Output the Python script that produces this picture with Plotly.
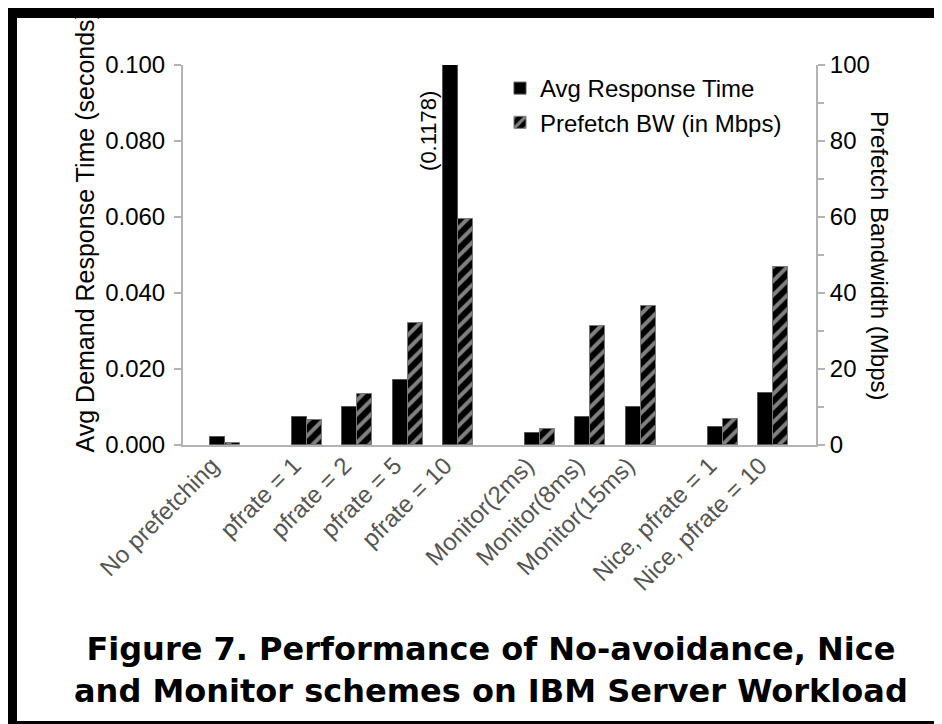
import plotly.graph_objects as go

# ---- data ----
groups = [
    ["No prefetching"],
    ["pfrate = 1", "pfrate = 2", "pfrate = 5", "pfrate = 10"],
    ["Monitor(2ms)", "Monitor(8ms)", "Monitor(15ms)"],
    ["Nice, pfrate = 1", "Nice, pfrate = 10"],
]
avg_response_time = [0.0021, 0.0075, 0.0099, 0.0171, 0.1178, 0.0031, 0.0075, 0.0101, 0.0048, 0.0136]
prefetch_bw = [0.4, 6.6, 13.5, 32.1, 59.6, 4.1, 31.2, 36.5, 6.8, 46.8]
clipped_label = "(0.1178)"
left_ticks = [0.0, 0.02, 0.04, 0.06, 0.08, 0.10]
right_ticks = [0, 20, 40, 60, 80, 100]

# ---- layout constants ----
W, H = 942, 724
L, R, T, B = 175, 808, 57, 437
GAP = 0.63  # extra spacing between groups (in category units)

labels, positions = [], []
p = 0.0
for gi, g in enumerate(groups):
    if gi > 0:
        p += GAP
    for name in g:
        labels.append(name)
        positions.append(p)
        p += 1.0
unit = (450 - 217) / (positions[4] - positions[0])
xmin = positions[0] - (217 - L) / unit
xmax = positions[0] + (R - 217) / unit
Y_MAX = 0.1
shown_rt = [min(v, Y_MAX) for v in avg_response_time]


def px(xp):
    return (xp - L) / (R - L)


def py(yp):
    return (B - yp) / (B - T)


FONT = "Liberation Sans, Arial, sans-serif"
AXC = "#b3b3b3"

fig = go.Figure()
fig.add_trace(go.Bar(
    x=positions, y=shown_rt, name="Avg Response Time",
    width=0.3, offset=-0.3,
    marker=dict(color="black", line=dict(color="#555555", width=1)),
    yaxis="y",
))
fig.add_trace(go.Bar(
    x=positions, y=prefetch_bw, name="Prefetch BW (in Mbps)",
    width=0.3, offset=0.0,
    marker=dict(color="black", line=dict(color="#777777", width=1),
                pattern=dict(shape="/", fgcolor="white", bgcolor="black",
                             size=10, solidity=0.4)),
    yaxis="y2",
))

fig.update_layout(
    width=W, height=H,
    margin=dict(l=L, r=W - R, t=T, b=H - B, pad=0),
    paper_bgcolor="black", plot_bgcolor="white",
    font=dict(family=FONT, size=24, color="black"),
    showlegend=True,
    legend=dict(x=px(492), y=py(58), xanchor="left", yanchor="top",
                bgcolor="rgba(0,0,0,0)", font=dict(size=24, color="black"),
                traceorder="normal", itemwidth=30, tracegroupgap=0),
    bargap=0,
    xaxis=dict(range=[xmin, xmax], tickvals=positions, ticktext=labels,
               tickangle=-45, showline=True, linecolor=AXC, linewidth=2,
               ticks="", showgrid=False, zeroline=False,
               ticklabelshift=-13, ticklabelstandoff=-5,
               tickfont=dict(size=24, color="#555555")),
    yaxis=dict(range=[0, Y_MAX], tickvals=left_ticks, tickformat=".3f",
               ticks="outside", ticklen=7, tickcolor=AXC, tickwidth=2,
               ticklabelstandoff=4,
               showline=True, linecolor=AXC, linewidth=2,
               showgrid=False, zeroline=False,
               tickfont=dict(size=24, color="black")),
    yaxis2=dict(range=[0, 100], tickvals=right_ticks, overlaying="y", side="right",
                ticks="outside", ticklen=7, tickcolor=AXC, tickwidth=2,
                minor=dict(dtick=10, ticks="outside", ticklen=6, tickcolor=AXC, tickwidth=2),
                showline=True, linecolor=AXC, linewidth=2,
                showgrid=False, zeroline=False,
                tickfont=dict(size=24, color="black")),
)

# white page area inside black frame
fig.add_shape(type="rect", xref="paper", yref="paper", layer="below",
              x0=px(9), x1=px(930), y0=py(713), y1=py(10),
              fillcolor="white", line=dict(width=0))

# axis titles
fig.add_annotation(text="Avg Demand Response Time (seconds)", xref="paper", yref="paper",
                   x=px(76), y=py(447), xanchor="center", yanchor="bottom",
                   textangle=-90, showarrow=False, font=dict(size=25, color="black"))
fig.add_annotation(text="Prefetch Bandwidth (Mbps)", xref="paper", yref="paper",
                   x=px(872), y=0.5, xanchor="center", yanchor="middle",
                   textangle=90, showarrow=False, font=dict(size=24, color="black"))

# value label for clipped bar
idx = avg_response_time.index(max(avg_response_time))
fig.add_annotation(text=clipped_label, x=positions[idx] - 0.15, y=Y_MAX,
                   xref="x", yref="y", xanchor="right", yanchor="top",
                   xshift=-8, yshift=-24, textangle=-90, showarrow=False,
                   font=dict(size=22, color="black"))

# figure caption
fig.add_annotation(text="<b>Figure 7. Performance of No-avoidance, Nice"
                        "<br>and Monitor schemes on IBM Server Workload</b>",
                   xref="paper", yref="paper", x=px(483), y=py(662),
                   xanchor="center", yanchor="middle", align="center",
                   showarrow=False,
                   font=dict(size=32, color="black", family="DejaVu Sans, sans-serif"))

fig.write_html("out.html")
